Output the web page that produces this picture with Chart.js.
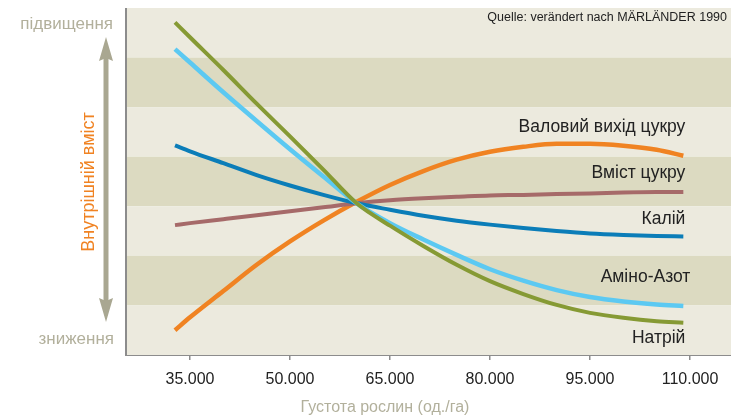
<!DOCTYPE html>
<html>
<head>
<meta charset="utf-8">
<script src="https://cdn.jsdelivr.net/npm/chart.js@4/dist/chart.umd.min.js"></script>
<style>
  html, body { margin: 0; padding: 0; background: #ffffff; }
  #wrap { width: 731px; height: 416px; position: relative; }
</style>
</head>
<body>
<div id="wrap"><canvas id="c" width="731" height="416"></canvas></div>
<script>
// ---- data ----
const xValues = [32750, 35000, 40000, 45000, 50000, 55000, 60000, 65000, 70000, 75000, 80000, 85000, 90000, 95000, 100000, 105000, 109000];
const sugarYield = [0.50, 0.76, 1.29, 1.82, 2.29, 2.71, 3.09, 3.43, 3.71, 3.94, 4.10, 4.20, 4.26, 4.26, 4.22, 4.14, 4.02];
const sugarContent = [2.62, 2.66, 2.74, 2.82, 2.90, 2.98, 3.06, 3.12, 3.16, 3.19, 3.22, 3.23, 3.25, 3.26, 3.28, 3.29, 3.29];
const potassium = [4.23, 4.11, 3.87, 3.63, 3.42, 3.23, 3.06, 2.93, 2.81, 2.71, 2.63, 2.56, 2.50, 2.45, 2.42, 2.40, 2.39];
const aminoN = [6.17, 5.90, 5.30, 4.72, 4.15, 3.60, 3.06, 2.66, 2.33, 2.02, 1.73, 1.50, 1.31, 1.17, 1.08, 1.02, 0.99];
const sodium = [6.71, 6.41, 5.75, 5.07, 4.41, 3.74, 3.06, 2.61, 2.20, 1.82, 1.49, 1.23, 1.01, 0.85, 0.75, 0.68, 0.65];
const seriesNames = ['Валовий вихід цукру', 'Вміст цукру', 'Калій', 'Аміно-Азот', 'Натрій'];
const seriesLabelY = [4.60, 3.67, 2.74, 1.57, 0.34];
const tickValues = [35000, 50000, 65000, 80000, 95000, 110000];
const tickLabels = ['35.000', '50.000', '65.000', '80.000', '95.000', '110.000'];
const xTitle = 'Густота рослин (од./га)';
const yTitle = 'Внутрішній вміст';
const yHigh = 'підвищення';
const yLow = 'зниження';
const sourceNote = 'Quelle: verändert nach MÄRLÄNDER 1990';
const bandCount = 7;

const FONT = '"Liberation Sans", Arial, Helvetica, sans-serif';
const colors = ['#F08322', '#A66A69', '#0B7DB8', '#5CC9F2', '#869A34'];
const widths = [4.5, 4, 4, 4.5, 4];
const seriesData = [sugarYield, sugarContent, potassium, aminoN, sodium];

const datasets = seriesData.map((arr, i) => ({
  label: seriesNames[i],
  data: arr.map((v, j) => ({ x: xValues[j], y: v })),
  borderColor: colors[i],
  borderWidth: widths[i],
  pointRadius: 0,
  fill: false,
  cubicInterpolationMode: 'monotone',
  borderCapStyle: 'butt'
}));
datasets.reverse();

const decorPlugin = {
  id: 'decor',
  beforeDatasetsDraw(chart) {
    const { ctx, chartArea: a, scales } = chart;
    const y = scales.y;
    ctx.save();
    for (let i = 0; i < bandCount; i++) {
      const top = y.getPixelForValue(bandCount - i);
      const bot = y.getPixelForValue(bandCount - i - 1);
      ctx.fillStyle = (i % 2 === 0) ? '#ECEADE' : '#DCDAC1';
      ctx.fillRect(a.left, top, a.right - a.left, bot - top);
    }
    ctx.restore();
  },
  afterDraw(chart) {
    const { ctx, chartArea: a, scales } = chart;
    const x = scales.x, y = scales.y;
    ctx.save();
    // left axis line
    ctx.strokeStyle = '#8C8C8C';
    ctx.lineWidth = 2;
    ctx.beginPath();
    ctx.moveTo(a.left, a.top);
    ctx.lineTo(a.left, a.bottom + 1);
    ctx.stroke();

    // series labels
    ctx.fillStyle = '#222222';
    ctx.font = '17.5px ' + FONT;
    ctx.textAlign = 'right';
    ctx.textBaseline = 'middle';
    const xr = x.getPixelForValue(xValues[xValues.length - 1]) + 2;
    seriesNames.forEach((n, i) => {
      ctx.fillText(n, xr + (i === 3 ? 5 : 0), y.getPixelForValue(seriesLabelY[i]));
    });

    // source note
    ctx.font = '12.5px ' + FONT;
    ctx.fillStyle = '#222222';
    ctx.fillText(sourceNote, a.right - 4, a.top + 10);

    // x title
    ctx.font = '16px ' + FONT;
    ctx.fillStyle = '#B2B09C';
    ctx.textAlign = 'center';
    ctx.fillText(xTitle, 385, 408);

    // left annotations
    ctx.fillStyle = '#B2B09C';
    ctx.font = '17px ' + FONT;
    ctx.textAlign = 'right';
    ctx.fillText(yHigh, 113, 24);
    ctx.fillText(yLow, 114, 339);

    // arrow
    const ax = 106;
    ctx.strokeStyle = '#A9A791';
    ctx.fillStyle = '#A9A791';
    ctx.lineWidth = 5;
    ctx.beginPath();
    ctx.moveTo(ax, 55);
    ctx.lineTo(ax, 305);
    ctx.stroke();
    ctx.beginPath();
    ctx.moveTo(ax, 37); ctx.lineTo(ax - 7, 61); ctx.lineTo(ax, 58); ctx.lineTo(ax + 7, 61); ctx.closePath();
    ctx.fill();
    ctx.beginPath();
    ctx.moveTo(ax, 322); ctx.lineTo(ax - 7, 298); ctx.lineTo(ax, 301); ctx.lineTo(ax + 7, 298); ctx.closePath();
    ctx.fill();

    // rotated title
    ctx.save();
    ctx.translate(89, 182);
    ctx.rotate(-Math.PI / 2);
    ctx.fillStyle = '#F08323';
    ctx.font = '18px ' + FONT;
    ctx.textAlign = 'center';
    ctx.textBaseline = 'middle';
    ctx.fillText(yTitle, 0, 0);
    ctx.restore();

    ctx.restore();
  }
};

new Chart(document.getElementById('c'), {
  type: 'line',
  data: { datasets },
  plugins: [decorPlugin],
  options: {
    responsive: false,
    animation: false,
    layout: { padding: { left: 126, top: 8, right: 0, bottom: 0 } },
    plugins: { legend: { display: false }, tooltip: { enabled: false } },
    scales: {
      x: {
        type: 'linear',
        min: 25400,
        max: 116150,
        afterBuildTicks(s) { s.ticks = tickValues.map(v => ({ value: v })); },
        afterFit(s) { s.height = 61; },
        ticks: {
          autoSkip: false,
          maxRotation: 0,
          padding: 10,
          color: '#222222',
          font: { family: FONT, size: 16 },
          callback(v) { const k = tickValues.indexOf(v); return k >= 0 ? tickLabels[k] : ''; }
        },
        grid: { drawOnChartArea: false, tickLength: 5, color: '#8C8C8C', lineWidth: 1.5 },
        border: { display: true, color: '#8C8C8C', width: 2 },
        title: { display: false }
      },
      y: {
        type: 'linear',
        min: 0,
        max: 7,
        display: false
      }
    }
  }
});
</script>
</body>
</html>
